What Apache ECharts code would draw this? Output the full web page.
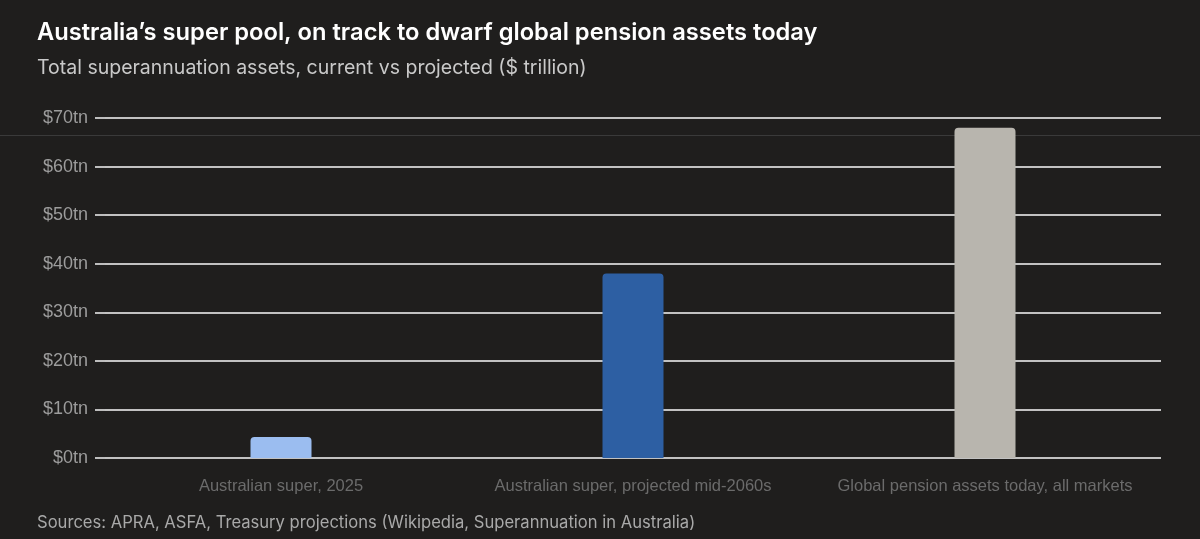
<!DOCTYPE html>
<html><head><meta charset="utf-8">
<script src="https://cdn.jsdelivr.net/npm/echarts@6/dist/echarts.min.js"></script>
<style>html,body{margin:0;padding:0;background:#1f1e1d;}#c{width:1200px;height:539px;}</style>
</head><body><div id="c"></div>
<script>
const categories = ["Australian super, 2025", "Australian super, projected mid-2060s", "Global pension assets today, all markets"];
const values = [4.3, 38, 68];
const barColors = ["#9bbdf0", "#2d5fa3", "#b8b5ae"];
const yTicks = [0, 10, 20, 30, 40, 50, 60, 70];

const chart = echarts.init(document.getElementById('c'));
chart.setOption({
  backgroundColor: '#1f1e1d',
  animation: false,
  title: [
    {text: "Australia’s super pool, on track to dwarf global pension assets today", left: 32, top: 16, padding: [5, 5],
     textStyle: {color: '#ffffff', fontFamily: 'Inter', fontWeight: 600, fontSize: 23.7}},
    {text: "Total superannuation assets, current vs projected ($ trillion)", left: 32, top: 53,
     textStyle: {color: '#c9c9c9', fontFamily: 'Inter', fontWeight: 400, fontSize: 19.5}},
    {text: "Sources: APRA, ASFA, Treasury projections (Wikipedia, Superannuation in Australia)", left: 32, top: 509,
     textStyle: {color: '#a9a9a9', fontFamily: 'Inter', fontWeight: 400, fontSize: 16.6}}
  ],
  graphic: [{type: 'rect', shape: {x: 0, y: 135, width: 1200, height: 1}, style: {fill: '#3a3a3a'}, silent: true}],
  grid: {left: 105, right: 39, top: 118, bottom: 81},
  xAxis: {
    type: 'category', data: categories,
    axisLine: {show: false}, axisTick: {show: false},
    axisLabel: {color: '#6b6b6b', fontFamily: 'Liberation Sans', fontSize: 16.5, margin: 20, interval: 0, hideOverlap: false}
  },
  yAxis: {
    type: 'value', min: 0, max: 70, interval: 10,
    axisLine: {show: false},
    axisTick: {show: true, length: 10, lineStyle: {color: '#bdbdbd', width: 2}},
    axisLabel: {color: '#9c9c9c', fontFamily: 'Liberation Sans', fontSize: 18, margin: 17,
      formatter: v => yTicks.includes(v) ? '$' + v + 'tn' : ''},
    splitLine: {lineStyle: {color: '#c2c2c2', width: 2}}
  },
  series: [{
    type: 'bar', barWidth: 61,
    data: values.map((v, i) => ({value: v, itemStyle: {color: barColors[i]}})),
    itemStyle: {borderRadius: [4, 4, 0, 0]}
  }]
});
</script></body></html>
